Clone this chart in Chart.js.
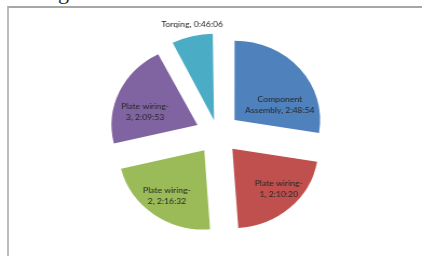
<!DOCTYPE html>
<html>
<head>
<meta charset="utf-8">
<script src="https://cdn.jsdelivr.net/npm/chart.js@4/dist/chart.umd.min.js"></script>
<style>
    html, body { margin: 0; padding: 0; background: #fff; overflow: hidden; }
    .wrap { position: relative; width: 422px; height: 256px; }
    .frame { position: absolute; left: 7px; top: 6px; width: 600px; height: 400px;
             border-top: 2px solid #a6a6a6; border-left: 2px solid #bdbdbd; }
    .cut-title { position: absolute; left: 41px; top: -19px; font: 22px/22px 'Liberation Serif', serif; color: #222; }
    /* la imagen original está algo estirada a lo ancho (391 -> 422) */
    .estirado { position: absolute; left: 0; top: 0; width: 391px; height: 256px;
                transform-origin: 0 0; transform: scaleX(1.0793); }
</style>
</head>
<body>
<div class="wrap">
    <div class="cut-title">ing</div>
    <div class="frame"></div>
    <div class="estirado">
        <canvas id="pieChart" width="391" height="256"></canvas>
    </div>
</div>
<script>
// Datos (tiempos por etapa)
const etapas = ['Component Assembly', 'Plate wiring-1', 'Plate wiring-2', 'Plate wiring-3', 'Torqing'];
const tiempos = ['2:48:54', '2:10:20', '2:16:32', '2:09:53', '0:46:06'];
const colores = ['#4F81BD', '#C0504D', '#9BBB59', '#8064A2', '#4BACC6'];

// Etiquetas partidas en líneas como en la hoja original
const lineasEtiqueta = [
    ['Component', 'Assembly, 2:48:54'],
    ['Plate wiring-', '1, 2:10:20'],
    ['Plate wiring-', '2, 2:16:32'],
    ['Plate wiring-', '3, 2:09:53'],
    ['Torqing, 0:46:06']
];
// Ajuste de la etiqueta: giro (grados) respecto al ángulo medio y distancia (fracción del radio)
const ajusteEtiqueta = [
    { giro: 21, dist: 0.56 },
    { giro: -4.5, dist: 0.74 },
    { giro: 1, dist: 0.72 },
    { giro: -9.5, dist: 0.63 },
    { giro: 1.7, dist: 1.14 }
];

// Separación deseada de cada porción (px)
const separacion = 21;

function aSegundos(t) {
    const p = t.split(':').map(Number);
    return p[0] * 3600 + p[1] * 60 + p[2];
}
const segundos = tiempos.map(aSegundos);
const total = segundos.reduce((a, b) => a + b, 0);

// Chart.js desplaza offset/4 * (1 + fix), así que se compensa para separar lo mismo todas
function factorDesplazamiento(circ) {
    return (1 + (1 - Math.sin(Math.min(Math.PI, circ)))) / 4;
}
const offsets = segundos.map(s => separacion / factorDesplazamiento(s / total * 2 * Math.PI));

const etiquetasPlugin = {
    id: 'etiquetasPlugin',
    afterDatasetsDraw(chart) {
        const ctx = chart.ctx;
        const meta = chart.getDatasetMeta(0);
        ctx.save();
        ctx.font = "8px Lato, 'Noto Sans', sans-serif";
        ctx.fillStyle = '#262626';
        ctx.textAlign = 'center';
        ctx.textBaseline = 'middle';
        meta.data.forEach((arc, i) => {
            const p = arc.getProps(['x', 'y', 'startAngle', 'endAngle', 'outerRadius', 'circumference']);
            const mid = (p.startAngle + p.endAngle) / 2;
            const off = (arc.options.offset || 0) * factorDesplazamiento(p.circumference);
            const cx = p.x + Math.cos(mid) * off;
            const cy = p.y + Math.sin(mid) * off;
            const a = mid + ajusteEtiqueta[i].giro * Math.PI / 180;
            const r = ajusteEtiqueta[i].dist * p.outerRadius;
            const lx = cx + Math.cos(a) * r;
            const ly = cy + Math.sin(a) * r;
            const lineas = lineasEtiqueta[i];
            const alto = 11;
            lineas.forEach((l, k) => {
                ctx.fillText(l, lx, ly + (k - (lineas.length - 1) / 2) * alto);
            });
        });
        ctx.restore();
    }
};

new Chart(document.getElementById('pieChart'), {
    type: 'pie',
    data: {
        labels: etapas,
        datasets: [{
            data: segundos,
            backgroundColor: colores,
            borderWidth: 0,
            offset: offsets,
            clip: false
        }]
    },
    options: {
        responsive: false,
        animation: false,
        layout: { padding: { top: 13, bottom: 2, left: 81, right: 69 } },
        plugins: {
            legend: { display: false },
            tooltip: { enabled: false }
        }
    },
    plugins: [etiquetasPlugin]
});
</script>
</body>
</html>
